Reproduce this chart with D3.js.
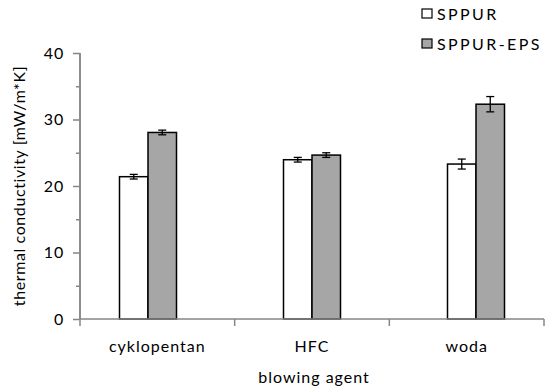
<!DOCTYPE html>
<html>
<head>
<meta charset="utf-8">
<script src="https://cdn.jsdelivr.net/npm/d3@7"></script>
<style>
  body { margin: 0; background: #fff; }
  text { font-family: Lato, sans-serif; fill: #000; }
</style>
</head>
<body>
<div class="chart"></div>
<script>
// thermal conductivity of foams by blowing agent
let categories = ["cyklopentan", "HFC", "woda"];
let seriesNames = ["SPPUR", "SPPUR-EPS"];
let sppur = [21.4, 23.95, 23.3];
let sppurEps = [28.05, 24.65, 32.3];
let sppurErr = [0.35, 0.35, 0.75];
let sppurEpsErr = [0.35, 0.35, 1.15];
let yTicks = [0, 10, 20, 30, 40];

let svgWidth = 550;
let svgHeight = 389;
let fontSize = 16;

let svg = d3.select(".chart")
  .append("svg")
  .attr("width", svgWidth)
  .attr("height", svgHeight);

let axisColor = "#868686";

// scales
let xScale = d3.scaleBand()
  .domain(categories)
  .range([80, 544]);

// bars sit slightly wider apart than the axis categories in the original
let barCenter = d3.scalePoint()
  .domain(categories)
  .range([148, 476]);

let barW = 28.5;

let yScale = d3.scaleLinear()
  .domain([0, 40])
  .range([319, 53]);

let rows = categories.map((c, i) => ({
  cat: c,
  vals: [
    { s: 0, v: sppur[i], e: sppurErr[i] },
    { s: 1, v: sppurEps[i], e: sppurEpsErr[i] }
  ]
}));

// bars
let groups = svg.selectAll(".cat")
  .data(rows)
  .enter()
  .append("g")
  .attr("class", "cat");

groups.selectAll("rect")
  .data(d => d.vals.map(v => Object.assign({ cat: d.cat }, v)))
  .enter()
  .append("rect")
  .attr("x", d => barCenter(d.cat) - barW + d.s * barW)
  .attr("y", d => yScale(d.v))
  .attr("width", barW)
  .attr("height", d => yScale(0) - yScale(d.v))
  .attr("fill", d => d.s === 0 ? "#ffffff" : "#a6a6a6")
  .attr("stroke", "#000")
  .attr("stroke-width", 1.5);

// error bars
let errs = groups.selectAll(".err")
  .data(d => d.vals.map(v => Object.assign({ cat: d.cat }, v)))
  .enter()
  .append("g")
  .attr("class", "err")
  .attr("stroke", "#000")
  .attr("stroke-width", 1.3);

let ex = d => barCenter(d.cat) - barW / 2 + d.s * barW;
errs.append("line")
  .attr("x1", ex).attr("x2", ex)
  .attr("y1", d => yScale(d.v + d.e))
  .attr("y2", d => yScale(d.v - d.e));
errs.append("line")
  .attr("x1", d => ex(d) - 4).attr("x2", d => ex(d) + 4)
  .attr("y1", d => yScale(d.v + d.e))
  .attr("y2", d => yScale(d.v + d.e));
errs.append("line")
  .attr("x1", d => ex(d) - 4).attr("x2", d => ex(d) + 4)
  .attr("y1", d => yScale(d.v - d.e))
  .attr("y2", d => yScale(d.v - d.e));

// y axis: major ticks at 10, minor at 5
let yMinor = svg.append("g")
  .attr("transform", "translate(80,0)")
  .call(d3.axisLeft(yScale).tickValues(d3.range(5, 40, 10)).tickSize(4).tickFormat(""));
let yAxis = svg.append("g")
  .attr("transform", "translate(80,0)")
  .call(d3.axisLeft(yScale).tickValues(yTicks).tickSize(7).tickPadding(9));

[yMinor, yAxis].forEach(g => {
  g.select(".domain").attr("stroke", axisColor).attr("stroke-width", 1.5)
    .attr("d", `M0,${yScale(40)}V${yScale(0)}`);
  g.selectAll(".tick line").attr("stroke", axisColor).attr("stroke-width", 1.5);
});
yAxis.selectAll(".tick text")
  .attr("font-size", fontSize)
  .attr("font-family", "Lato, sans-serif")
  .attr("letter-spacing", 0.8)
  .attr("fill", "#000");

// x axis: ticks at category boundaries
let xAxis = svg.append("g")
  .attr("transform", `translate(0,${yScale(0)})`)
  .call(d3.axisBottom(xScale).tickSize(0).tickPadding(22));
xAxis.select(".domain").attr("stroke", axisColor).attr("stroke-width", 1.5)
  .attr("d", "M80,0H544");
xAxis.selectAll(".tick text")
  .attr("font-size", fontSize)
  .attr("font-family", "Lato, sans-serif")
  .attr("letter-spacing", 1)
  .attr("fill", "#000");

let bounds = categories.map(c => xScale(c)).concat([xScale.range()[1]]);
xAxis.selectAll(".bound")
  .data(bounds)
  .enter()
  .append("line")
  .attr("class", "bound")
  .attr("x1", d => d).attr("x2", d => d)
  .attr("y1", 0).attr("y2", 7)
  .attr("stroke", axisColor)
  .attr("stroke-width", 1.5);

// axis titles
svg.append("text")
  .attr("transform", "translate(25,186) rotate(-90)")
  .attr("text-anchor", "middle")
  .attr("font-size", fontSize)
  .attr("letter-spacing", 0.6)
  .text("thermal conductivity [mW/m*K]");

svg.append("text")
  .attr("x", 314)
  .attr("y", 383)
  .attr("text-anchor", "middle")
  .attr("font-size", fontSize)
  .attr("letter-spacing", 1)
  .text("blowing agent");

// legend
let legend = svg.selectAll(".legend")
  .data(seriesNames)
  .enter()
  .append("g")
  .attr("class", "legend")
  .attr("transform", (d, i) => `translate(422,${9 + i * 30})`);

legend.append("rect")
  .attr("width", 10)
  .attr("height", 9)
  .attr("fill", (d, i) => i === 0 ? "#ffffff" : "#a6a6a6")
  .attr("stroke", "#000")
  .attr("stroke-width", 1.2);

legend.append("text")
  .attr("x", 15)
  .attr("y", 11)
  .attr("font-size", fontSize)
  .attr("letter-spacing", 2.4)
  .text(d => d);
</script>
</body>
</html>
